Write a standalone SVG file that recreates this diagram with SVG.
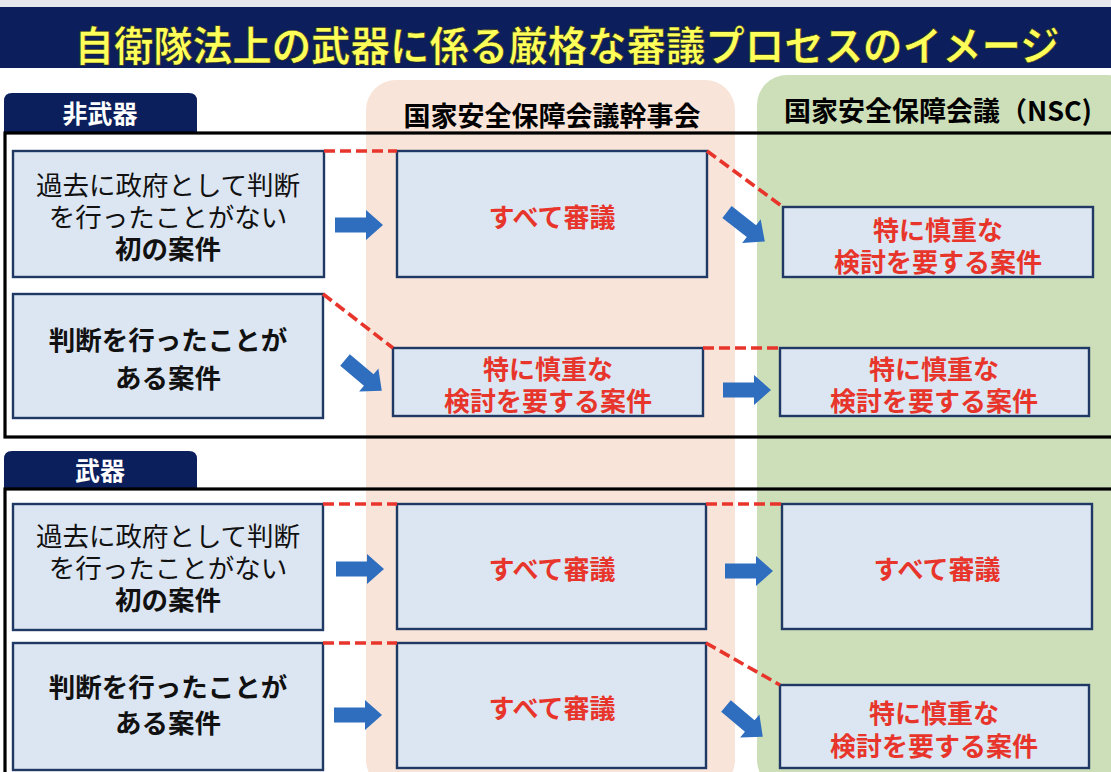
<svg xmlns="http://www.w3.org/2000/svg" xmlns:xlink="http://www.w3.org/1999/xlink" width="1111" height="772" viewBox="0 0 1111 772">
<style>
.jp{font-family:"Noto Sans CJK JP","Noto Sans CJK SC",sans-serif;}
.box{fill:#DCE6F2;stroke:#1F3864;stroke-width:2.4;}
.frame{fill:none;stroke:#000;stroke-width:3.2;}
.tab{fill:#0B1F5C;}
.tabt{fill:#fff;font-weight:700;font-size:25px;text-anchor:middle;}
.hd{fill:#000;font-weight:700;font-size:27px;text-anchor:middle;}
.blk{fill:#111;font-size:26.5px;text-anchor:middle;}
.bold{font-weight:700;}
.red{fill:#E8352B;font-weight:700;font-size:26px;text-anchor:middle;}
.dash{stroke:#E8352B;stroke-width:3.6;stroke-dasharray:11 5;fill:none;}
.arr{fill:#2F6EBF;}
</style>
<defs>
<path id="arr" d="M0,-7.5 H31 V-15 L48,0 L31,15 V7.5 H0 Z"/>
</defs>
<rect x="0" y="0" width="1111" height="772" fill="#fff"/>
<rect x="0" y="0" width="1111" height="8" fill="#E6E7EC"/>
<rect x="0" y="7" width="1111" height="61" fill="#0C1E5B"/>
<text class="jp" x="567" y="61" font-size="41" font-weight="700" fill="#FFFF5A" stroke="#2A2A10" stroke-width="0.6" text-anchor="middle" textLength="985" lengthAdjust="spacingAndGlyphs">自衛隊法上の武器に係る厳格な審議プロセスのイメージ</text>

<g id="columns">
<rect x="366" y="80" width="369" height="710" rx="30" fill="#F8E4D8"/>
<rect x="757" y="75" width="380" height="715" rx="30" fill="#CDDFB9"/>
<text class="jp hd" x="552" y="126" font-size="28">国家安全保障会議幹事会</text>
<text class="jp hd" x="938" y="121">国家安全保障会議（NSC)</text>
</g>

<g id="section-nonweapon">
<path class="tab" d="M4,132 V101 Q4,93 12,93 H189 Q197,93 197,101 V132 Z"/>
<text class="jp tabt" x="100" y="123">非武器</text>
<rect class="frame" x="5" y="133" width="1120" height="304"/>
</g>
<g id="section-weapon">
<path class="tab" d="M4,488 V459 Q4,451 12,451 H189 Q197,451 197,459 V488 Z"/>
<text class="jp tabt" x="100" y="480">武器</text>
<rect class="frame" x="5" y="489" width="1120" height="300"/>
</g>

<g id="n-L1">
<rect class="box" x="13" y="151" width="311" height="126"/>
<text class="jp blk"><tspan x="168" y="195">過去に政府として判断</tspan><tspan x="168" y="227">を行ったことがない</tspan><tspan x="168" y="259" font-weight="700">初の案件</tspan></text>
</g>
<g id="n-M1">
<rect class="box" x="397" y="151" width="310" height="126"/>
<text class="jp red" x="552" y="227" font-size="27.5">すべて審議</text>
</g>
<g id="n-R1">
<rect class="box" x="783" y="207" width="310" height="70"/>
<text class="jp red"><tspan x="938" y="240">特に慎重な</tspan><tspan x="938" y="272">検討を要する案件</tspan></text>
</g>
<g id="n-L2">
<rect class="box" x="13" y="294" width="310" height="124"/>
<text class="jp blk bold" font-size="27"><tspan x="168" y="350">判断を行ったことが</tspan><tspan x="168" y="388">ある案件</tspan></text>
</g>
<g id="n-M2">
<rect class="box" x="393" y="348" width="310" height="68"/>
<text class="jp red"><tspan x="548" y="379">特に慎重な</tspan><tspan x="548" y="411">検討を要する案件</tspan></text>
</g>
<g id="n-R2">
<rect class="box" x="780" y="348" width="309" height="68"/>
<text class="jp red"><tspan x="934" y="379">特に慎重な</tspan><tspan x="934" y="411">検討を要する案件</tspan></text>
</g>

<g id="w-L3">
<rect class="box" x="13" y="504" width="310" height="126"/>
<text class="jp blk"><tspan x="168" y="546">過去に政府として判断</tspan><tspan x="168" y="578">を行ったことがない</tspan><tspan x="168" y="610" font-weight="700">初の案件</tspan></text>
</g>
<g id="w-M3">
<rect class="box" x="397" y="504" width="309" height="125"/>
<text class="jp red" x="552" y="579" font-size="27.5">すべて審議</text>
</g>
<g id="w-R3">
<rect class="box" x="782" y="504" width="310" height="125"/>
<text class="jp red" x="937" y="579" font-size="27.5">すべて審議</text>
</g>
<g id="w-L4">
<rect class="box" x="13" y="643" width="310" height="127"/>
<text class="jp blk bold" font-size="27"><tspan x="168" y="697">判断を行ったことが</tspan><tspan x="168" y="733">ある案件</tspan></text>
</g>
<g id="w-M4">
<rect class="box" x="397" y="643" width="309" height="125"/>
<text class="jp red" x="552" y="718" font-size="27.5">すべて審議</text>
</g>
<g id="w-R4">
<rect class="box" x="780" y="685" width="309" height="83"/>
<text class="jp red"><tspan x="934" y="723">特に慎重な</tspan><tspan x="934" y="756">検討を要する案件</tspan></text>
</g>

<g id="connectors">
<line class="dash" x1="324" y1="151" x2="397" y2="151"/>
<line class="dash" x1="707" y1="151" x2="783" y2="207"/>
<line class="dash" x1="323" y1="294" x2="393" y2="348"/>
<line class="dash" x1="703" y1="348" x2="780" y2="348"/>
<line class="dash" x1="323" y1="504" x2="397" y2="504"/>
<line class="dash" x1="706" y1="504" x2="782" y2="504"/>
<line class="dash" x1="323" y1="643" x2="397" y2="643"/>
<line class="dash" x1="706" y1="643" x2="780" y2="685"/>
<use class="arr" href="#arr" transform="translate(335,225)"/>
<use class="arr" href="#arr" transform="translate(727,212) rotate(38)"/>
<use class="arr" href="#arr" transform="translate(345,360) rotate(40)"/>
<use class="arr" href="#arr" transform="translate(723,390)"/>
<use class="arr" href="#arr" transform="translate(336,569)"/>
<use class="arr" href="#arr" transform="translate(725,571)"/>
<use class="arr" href="#arr" transform="translate(334,715)"/>
<use class="arr" href="#arr" transform="translate(726,706) rotate(40)"/>
</g>
</svg>
